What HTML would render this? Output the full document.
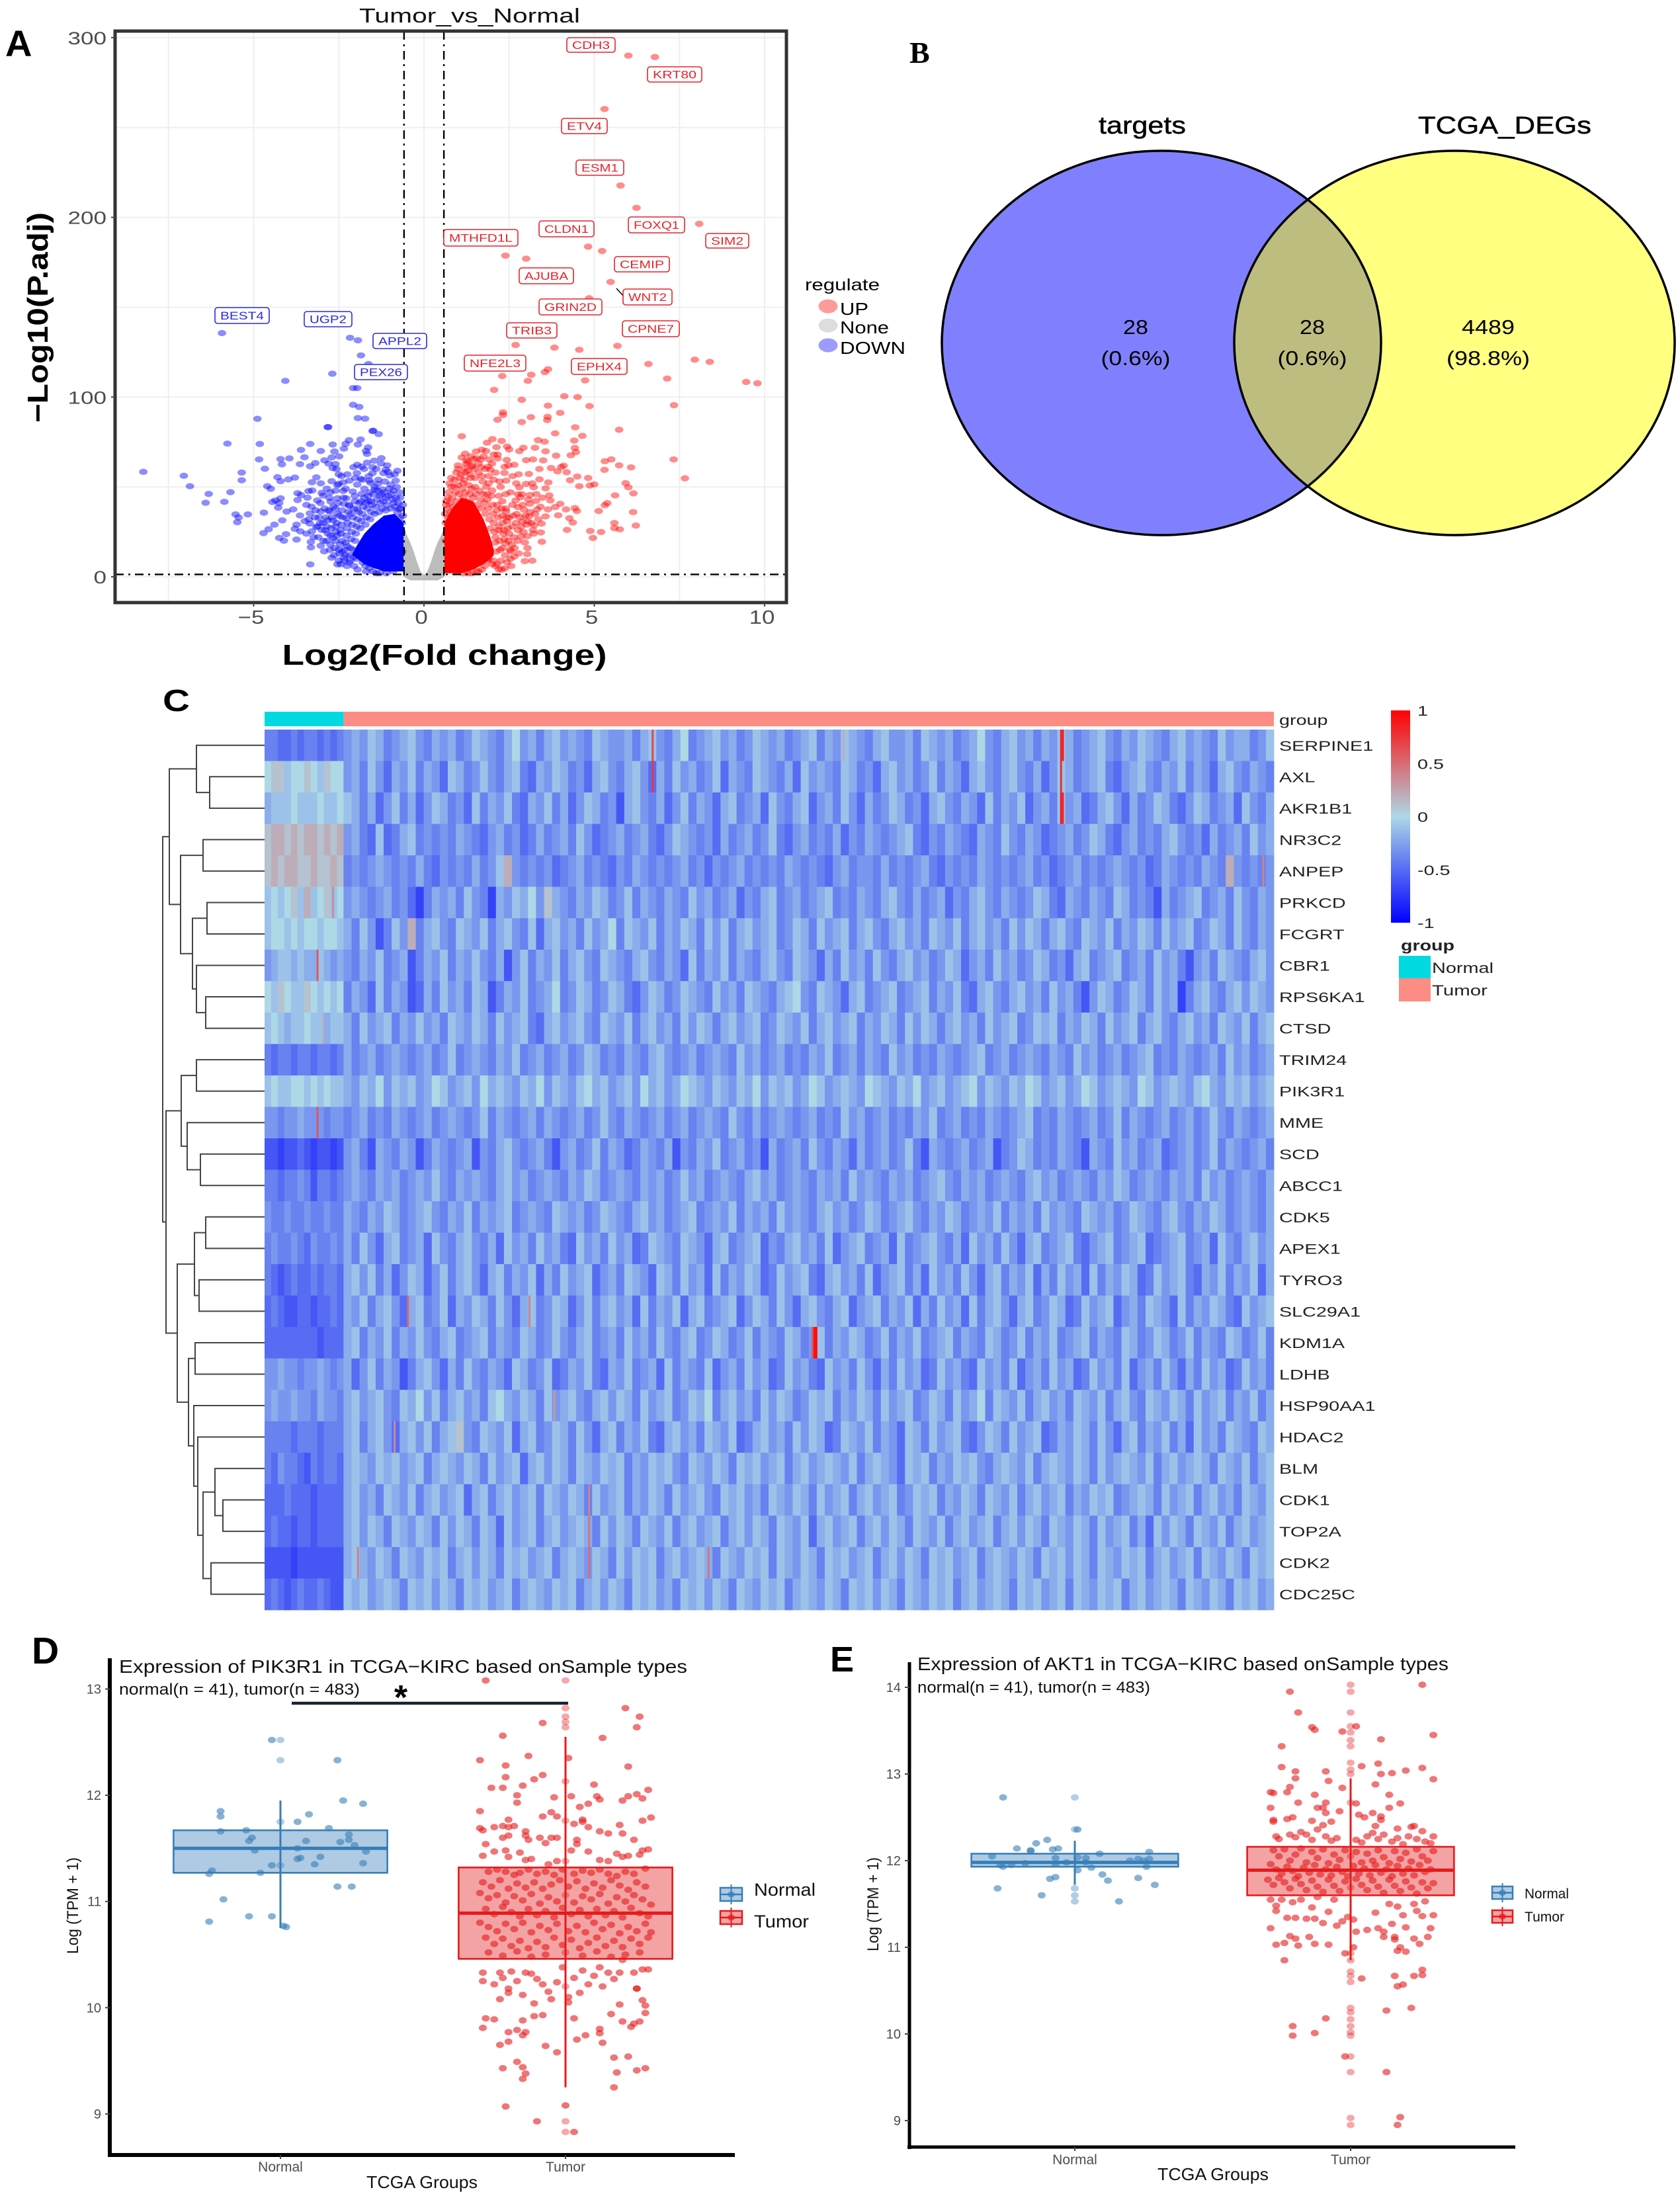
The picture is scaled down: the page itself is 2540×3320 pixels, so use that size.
<!DOCTYPE html>
<html lang="en">
<head>
<meta charset="utf-8">
<title>Tumor vs Normal composite figure</title>
<style>
html,body{margin:0;padding:0;background:#fff}
svg{display:block}
text{font-family:"Liberation Sans",Arial,sans-serif}
</style>
</head>
<body>
<svg id="fig" xmlns="http://www.w3.org/2000/svg" width="2540" height="3320" viewBox="0 0 2540 3320">
<rect width="2540" height="3320" fill="#fff"/>
<g id="panelA"></g>
<g id="panelB">
  <defs><clipPath id="vennClip"><ellipse cx="1756" cy="518.5" rx="332" ry="290.5"/></clipPath></defs>
  <ellipse cx="1756" cy="518.5" rx="332" ry="290.5" fill="#8080ff"/>
  <ellipse cx="2199" cy="518.5" rx="333" ry="290.5" fill="#ffff80"/>
  <ellipse cx="2199" cy="518.5" rx="333" ry="290.5" fill="#bdbd80" clip-path="url(#vennClip)"/>
  <ellipse cx="1756" cy="518.5" rx="332" ry="290.5" fill="none" stroke="#000" stroke-width="3.5"/>
  <ellipse cx="2199" cy="518.5" rx="333" ry="290.5" fill="none" stroke="#000" stroke-width="3.5"/>
  <text x="1727" y="202" font-size="37" text-anchor="middle" textLength="132" lengthAdjust="spacingAndGlyphs" stroke="#000" stroke-width=".5">targets</text>
  <text x="2275" y="202" font-size="37" text-anchor="middle" textLength="262" lengthAdjust="spacingAndGlyphs" stroke="#000" stroke-width=".5">TCGA_DEGs</text>
  <text x="1717" y="505" font-size="31" text-anchor="middle" textLength="38" lengthAdjust="spacingAndGlyphs">28</text>
  <text x="1717" y="552" font-size="31" text-anchor="middle" textLength="105" lengthAdjust="spacingAndGlyphs">(0.6%)</text>
  <text x="1984" y="505" font-size="31" text-anchor="middle" textLength="38" lengthAdjust="spacingAndGlyphs">28</text>
  <text x="1984" y="552" font-size="31" text-anchor="middle" textLength="105" lengthAdjust="spacingAndGlyphs">(0.6%)</text>
  <text x="2250" y="505" font-size="31" text-anchor="middle" textLength="80" lengthAdjust="spacingAndGlyphs">4489</text>
  <text x="2250" y="552" font-size="31" text-anchor="middle" textLength="126" lengthAdjust="spacingAndGlyphs">(98.8%)</text>
</g>
<g id="panelC"></g>
<g id="panelD"></g>
<g id="panelE"></g>
<text x="8" y="85" font-size="56" font-weight="700">A</text>
<text x="1375" y="95" font-size="46" font-weight="700" style="font-family:'Liberation Serif',serif">B</text>
<text x="246" y="1075" font-size="46" font-weight="700" textLength="41" lengthAdjust="spacingAndGlyphs">C</text>
<text x="48" y="2515" font-size="57" font-weight="700">D</text>
<text x="1255" y="2527" font-size="54" font-weight="700">E</text>
</svg>
<script>
/* ---------- Volcano data (log2 fold change, -log10 adjusted p) ---------- */
const volXTicks=[-5,0,5,10];
const volYTicks=[0,100,200,300];
const volXMinor=[-7.5,-2.5,2.5,7.5];
const volYMinor=[50,150,250];
const volFcCut=[-0.585,0.585];
const volPCut=[1.3];
const noneBandX=[-0.6,-0.5,-0.4,-0.3,-0.2,-0.1,0,0.1,0.2,0.3,0.4,0.5,0.6];
const noneBandTop=[27,23,19,14,8,3,1,3,8,14,19,23,27];
const noneBandBottom=[0,-1,-2,-2,-2,-2,-2,-2,-2,-2,-2,-1,0];
const downCoreX=[-0.6,-0.86,-1.18,-1.5,-1.75,-1.95,-2.1];
const downCoreTop=[30,35,34,29,24,18,13];
const downCoreBottom=[3,3,3,5,7,10,12];
const upCoreX=[0.6,0.82,1.1,1.45,1.75,1.95,2.05];
const upCoreTop=[30,38,44,42,32,22,15];
const upCoreBottom=[2,2,2,4,7,10,12];
const downPoints=[[-8.24,58.4],[-7.05,56.2],[-6.87,50.4],[-6.32,46.1],[-6.41,41.2],[-5.86,41.7],[-5.68,47.1],[-5.35,58],[-5.35,53.7],[-5.53,34.7],[-5.44,33],[-5.48,30.4],[-5.17,34.7],[-4.89,87.9],[-4.82,73.9],[-5.77,74.1],[-4.84,65.3],[-4.67,60.1],[-4.07,109],[-2.69,113],[-5.93,135.6],[-2.17,133],[-1.94,131.6],[-1.85,123.2],[-1.63,118.4],[-2.08,105],[-1.96,105],[-2.08,95.7],[-1.9,94.5],[-1.94,88.3],[-1.73,88],[-2.81,83.3],[-1.49,81.3],[-1.33,79.4],
[-4.21,65.5],[-3.95,65.9],[-4.17,62.6],[-3.61,70.6],[-3.34,73.9],[-3.51,66.5],[-3.64,62.7],[-3.34,61.5],[-3.19,63.3],[-3.03,70],[-2.92,64.8],[-2.68,73.6],[-2.63,69.7],[-2.35,71.3],[-2.3,74],[-2.2,76],[-1.86,76.4],[-1.94,73.6],[-1.64,72],[-1.7,70],[-1.67,68.4],[-2.49,67],[-2.71,66.4],[-1.51,81.1],[-2.83,83.3],
[-2.8,63],[-2.68,60.5],[-2.6,62.7],[-2.57,60],[-2.5,57],[-2.07,61],[-1.96,62.3],[-1.83,61.3],[-1.76,60],[-1.67,63.5],[-1.46,64.6],[-1.26,63],[-1.51,61],[-1.97,57.7],[-1.51,57.7],[-1.12,59.6],[-1.19,57.7],[-0.86,57],[-1,56.4],
[-4.3,55.4],[-4.21,53.2],[-3.98,54.2],[-3.79,55.2],[-3.16,55.3],[-3.29,52.6],[-3.03,52],[-2.71,53.2],[-2.54,51],[-2.37,52.5],[-2.19,53.5],[-1.96,51.3],[-1.86,54.5],[-4.6,50.4],[-4.5,49],[-3.39,47.7],[-3.28,48],[-2.6,47.9],[-2.37,47.8],[-1.8,54],[-1.6,53.5],[-1.34,54],[-0.98,51.3],[-0.83,53.5],
[-3.71,46.5],[-3.61,45.5],[-3.71,42.7],[-4.21,43.7],[-4.36,42.5],[-4.45,41.6],[-4.25,41],[-4.28,38.5],[-3.45,40],[-3.35,35.3],[-3,46.7],[-2.96,45.2],[-2.74,41.8],[-2.35,40.6],[-4.7,35.7],[-4.16,31.4],[-4.39,29],[-4.56,26.5],[-4.71,24.3],[-4.03,36.3],[-3.84,37.5],[-3.64,34.1],[-3.74,29],[-3.79,26.7],[-3.63,25.3],[-4.05,23.7],[-4.25,21.6],[-4.11,20.1],[-3.74,20.7],[-3.32,19.4],[-3.32,16.4],[-3.34,6.9],[-3.29,25.3],[-3.16,27.7],[-3.35,29.6],[-2.9,25.9],[-3.03,17.3],[-2.93,14.2],[-2.71,10.6],[-2.54,6.9],[-2.35,10.6],[-2.67,21.6],[-2.83,31.4],[-3.03,36.3],[-2.77,36.3],[-2.48,33.9],[-2.28,43.7],[-2.03,44.9],[-1.83,46.1],[-1.64,44.9],[-1.44,48.6],[-1.57,52.3],[-1.12,43.7],[-0.89,41.2],[-0.73,37.5],[-2.51,51.7],[-2.09,47.4],[-1.22,48.6],[-2.28,32.6],[-2.67,31.4],[-1.96,37.5],[-1.7,41.2],[-2.19,39.4],[-2.54,43.7],[-3.13,42.5],[-1.06,58.4],[-1.35,51.7],
[-2.6,28],[-2.45,26],[-2.75,18],[-2.5,15],[-2.4,20],[-2.55,23],[-3.1,22],[-2.95,20],[-2.2,8],[-2.05,6],[-1.95,4],[-1.7,3],[-2.4,37],[-2.15,35],[-2.6,38],[-1.85,42],[-1.55,42],[-1.3,45],[-0.95,46],[-0.7,44],[-0.62,40],[-2.85,28],[-3.05,30],[-3.2,33],[-3.5,31],[-3.45,24],[-2.25,17],[-2.3,12]];
const downDensePoints=[[-0.62,34],[-0.65,30],[-0.66,25],[-0.68,38],[-0.7,33],[-0.72,47],[-0.75,41],[-0.78,36],[-0.8,50],[-0.82,44],[-0.85,39],[-0.9,48],[-0.93,43],[-0.97,38],[-1.02,49],[-1.05,45],[-1.08,40],[-1.12,37],[-1.15,47],[-1.18,42],[-1.22,38],[-1.25,46],[-1.28,41],[-1.32,36],[-1.36,48],[-1.38,43],[-1.42,39],[-1.45,35],[-1.48,46],[-1.52,40],[-1.55,36],[-1.58,32],[-1.6,47],[-1.63,42],[-1.66,38],[-1.69,33],[-1.72,29],[-1.75,44],[-1.78,39],[-1.81,35],[-1.84,31],[-1.87,27],[-1.9,41],[-1.92,36],[-1.95,32],[-1.97,28],[-2,24],[-2.02,20],[-2.03,42],[-2.06,38],[-2.08,33],[-2.1,29],[-2.12,25],[-2.14,21],[-2.16,16],[-2.18,12],[-2.2,40],[-2.22,36],[-2.24,30],[-2.26,27],[-2.28,23],[-2.3,19],[-2.32,15],[-2.34,9],[-2.36,44],[-2.38,33],[-2.42,29],[-2.44,24],[-2.46,18],[-2.48,13],[-2.5,9],[-2.52,41],[-2.54,35],[-2.56,30],[-2.58,25],[-2.6,20],[-2.62,16],[-2.64,12],[-2.66,39],[-2.7,33],[-2.72,27],[-2.74,23],[-2.76,15],[-2.78,44],[-2.8,37],[-2.82,24],[-2.86,20],[-2.88,33],[-2.92,38],[-2.96,30],[-3,26],[-3.04,41],[-3.08,33],[-3.12,28],[-3.18,37],[-3.24,22],[-3.3,39],[-3.38,32],[-3.42,44],[-1.98,10],[-1.9,12],[-1.8,8],[-1.72,6],[-1.6,5],[-1.5,3],[-1.4,2],[-2.08,15],[-2.16,9],[-2.06,11],[-0.64,14],[-0.7,9],[-0.76,5],[-0.9,3],[-1.1,2],[-1.3,2],[-2.26,6],[-2.4,14],[-2.44,7],[-1.15,53],[-1.45,50],[-1.75,49],[-2.3,49],[-2.75,47],[-2.25,57],[-1.25,66],[-0.78,59],[-1.62,56],[-1.08,62],[-1.4,60],[-2.02,55],[-2.42,56],[-2.85,49]];
const upPoints=[[6,290],[6.78,289.2],[5.3,260.3],[5.77,217.7],[6.24,205.3],[8.08,196.4],[4.82,183.7],[5.23,181.3],[2.39,178.7],[3,177],[5.48,164.1],[4.85,155],[2.69,129],[3.83,127.5],[4.56,126.3],[5.68,128.5],[6.59,118.4],[7.95,120.8],[8.39,119.6],[7.14,110.3],[9.46,108.4],[9.79,107.7],[2.3,111.7],[3.15,112.4],[3.05,109],[3.55,113.9],[3.64,115.5],[4.73,109.3],[2.06,104],
[2.87,98.5],[4.12,100.5],[4.51,100],[3.64,95.2],[4.86,95],[2.32,91.5],[2.32,90],[2.16,87.4],[3.14,88.8],[2.87,86.1],[3.63,89],[3.62,87.2],[4,91.2],[7.34,95.5],[5.73,81.8],[4.44,83.2],[3.85,79.8],[4.65,78.4],[1.11,78.2],[4.41,75.8],[4.43,71.7],[4.46,69.4],[4.31,67.6],[3.88,67.4],[3.35,76],[3.54,75.2],[2.01,76.6],[1.85,74.6],[2.28,75.6],[2.13,72.1],[2.44,72.5],[2.5,70.9],[2.92,71.8],[3.26,71.8],[2.8,69.9],[3.57,69.8],[1.7,70.7],[1.53,69.7],[1.21,68.5],[1.11,66.4],[2.16,68],[1.25,64.8],[1.46,65.5],[1.67,65.2],[1.92,65.2],[2.16,65.8],[2.43,65],[3,64.9],[3.2,65.3],[3.5,64.8],[5.31,64.3],[5.5,65.3],[5.73,62],[6.08,60.9],[5.3,59.5],[7.33,65.3],[7.66,54.8],[2.65,62.3],[2.37,61.2],[1.88,61.2],[1.42,61.2],[1.21,60.5],[3.39,60],[3.73,60.5],[3.92,58.7],[4.1,61.8],[4.03,61.1],[4.19,58.2],[3.08,57.2],[2.36,57.8],[1.95,59.6],[4.5,55.8],[4.29,53.7],[4.82,55],[3.39,54.2],[3.65,52.5],[3.18,52],[3,51.7],[2.71,52],[2.41,53.5],[4.56,50.4],[4.87,50.8],[5,51.4],[5.92,52.1],[6,49.8],[6.15,46.4],[5.61,45.3],[5.38,41],[5.31,39.8],[5.13,36.6],[6.14,36],[6.22,28.5],[5.59,29.9],[5.59,27.1],[5.75,26.4],[4.88,25.5],[5.2,24.9],[4.96,21.6],[4.2,26.1],[3.57,49.2],[3.22,49.8],[2.8,49.8],[3.68,45.3],[3.11,45.5],[2.76,45.9],[2.83,44.3],[3.71,42.5],[4,40.6],[3.85,38.8],[3.29,42.2],[2.69,42.5],[3.11,40.6],[4.17,37.5],[4.43,38.2],[4.49,36.6],[3.64,37.5],[3.32,37.5],[2.94,37.3],[2.76,38.8],[3.94,34.2],[4.27,32.6],[4.37,30.2],[3.57,33.6],[3.08,33.6],[3.24,28.7],[3.45,29.6],[2.89,30.8],[3.04,30.8],[2.44,30.8],[2.41,36.3],[3.43,24.7],[3.22,24],[2.85,22.5],[3.04,22.6],[2.76,25.9],[2.35,25.9],[3.46,19.5],[2.96,19.1],[2.39,18.5],[2.58,17.9],[2.55,14.2],[3.04,16],[3.03,12.6],[2.65,11.2],[2.96,8.7],[3.18,9],[2.44,8.1],[2.37,4.7],
[0.7,44],[0.9,50],[1.05,55],[1.2,58],[1.35,57],[1.5,55],[1.7,56],[1.9,52],[2,48],[2.2,45],[2.3,42],[2.4,38],[2.5,33],[2.6,28],[2.5,24],[2.2,28],[2.1,22],[2.3,16],[1.9,10],[2,7],[2.2,4],[1.6,3],[1.8,60],[1.4,62],[1,60],[1.15,52],[0.75,52],[2.05,54],[2.25,50],[1.3,64],[1.6,63],[1.75,67],[2,63],[2.1,58],[0.65,40],[1.85,46],[2.3,34],[2.15,40]];
const upDensePoints=[[0.62,35],[0.64,30],[0.66,42],[0.68,38],[0.7,33],[0.73,47],[0.76,41],[0.78,36],[0.8,50],[0.83,44],[0.86,39],[0.9,54],[0.93,47],[0.96,42],[1,51],[1.03,46],[1.06,40],[1.09,57],[1.12,49],[1.15,44],[1.18,54],[1.22,47],[1.25,42],[1.28,59],[1.31,51],[1.34,46],[1.37,55],[1.4,49],[1.44,44],[1.47,60],[1.5,50],[1.53,46],[1.56,40],[1.6,58],[1.63,48],[1.66,43],[1.69,38],[1.72,53],[1.75,46],[1.78,41],[1.8,35],[1.83,50],[1.86,43],[1.89,38],[1.92,32],[1.95,27],[1.98,45],[2.01,40],[2.03,35],[2.05,30],[2.07,25],[2.09,19],[2.12,14],[2.14,37],[2.17,33],[2.19,26],[2.21,20],[2.24,15],[2.26,9],[2.28,38],[2.31,30],[2.33,24],[2.36,21],[2.38,12],[2.4,46],[2.42,33],[2.46,27],[2.48,20],[2.52,15],[2.54,10],[2.56,6],[2.6,40],[2.62,34],[2.64,22],[2.66,16],[2.7,30],[2.72,35],[2.75,20],[2.78,13],[2.82,33],[2.85,28],[2.9,40],[2.92,25],[2.98,34],[3.02,29],[3.06,43],[3.12,36],[3.15,30],[3.2,26],[3.26,35],[3.3,46],[3.36,32],[3.42,39],[3.48,44],[1.92,14],[1.86,9],[1.78,6],[1.7,4],[1.55,3],[1.4,2],[2.04,9],[2.1,6],[2.28,4],[2.15,7],[0.7,12],[0.8,6],[0.95,3],[1.15,2],[1.3,2],[0.64,20],[1,62],[1.24,63],[1.55,66],[1.9,56],[2.22,53],[2.54,47],[2.6,56],[2.48,62],[2.78,57],[2.88,46],[2.05,68],[1.82,70],[1.38,67],[0.95,58],[0.8,55],[1.68,61]];
const volLabels=["CDH3","KRT80","ETV4","ESM1","MTHFD1L","CLDN1","FOXQ1","SIM2","CEMIP","AJUBA","WNT2","GRIN2D","CPNE7","TRIB3","NFE2L3","EPHX4","BEST4","UGP2","APPL2","PEX26"];
const volLabelDir=["up","up","up","up","up","up","up","up","up","up","up","up","up","up","up","up","down","down","down","down"];
const volLabelBox=[[857,57,73,22],[979,101,82,23],[849,179,69,23],[871,242,72,23],[671,347,112,25],[815,334,83,24],[950,328,85,24],[1067,353,65,22],[929,388,83,23],[785,405,82,24],[942,437,74,24],[815,452,95,24],[941,485,86,24],[766,488,76,23],[702,537,93,24],[864,542,84,24],[325,465,82,24],[460,471,72,23],[564,504,81,23],[536,551,80,23]];

/* ---------- Heatmap data: levels map to (level-7)/10 on a -1..1 scale ---------- */
const heatGenes=["SERPINE1","AXL","AKR1B1","NR3C2","ANPEP","PRKCD","FCGRT","CBR1","RPS6KA1","CTSD","TRIM24","PIK3R1","MME","SCD","ABCC1","CDK5","APEX1","TYRO3","SLC29A1","KDM1A","LDHB","HSP90AA1","HDAC2","BLM","CDK1","TOP2A","CDK2","CDC25C"];
const groupSizes=[41,483];
const normalColumns=12;
const colorbarTicks=[1,0.5,0,-0.5,-1];
const heatRows=[
[3,3,2,2,3,2,3,3,2,3,2,3,4,5,4,6,5,3,4,5,6,4,3,5,4,5,3,4,6,5,4,3,5,7,4,5,3,5,6,4,5,4,3,6,5,4,4,5,3,5,6,4,3,5,7,3,4,5,6,4,5,3,4,6,5,4,5,3,4,5,6,3,5,4,6,5,4,3,5,6,4,4,5,3,6,5,4,5,3,4,5,7,4,3,5,6,4,5,3,5,4,6,5,3,4,5,6,4,3,5,4,6,5,4,3,5,6,4,5,4,3,6,4,5,5,3,4,6],
[7,8,8,6,7,7,8,7,6,8,7,7,4,5,3,6,4,2,5,4,6,3,5,4,2,6,5,3,4,6,4,3,5,6,3,2,5,4,6,5,3,4,2,5,6,4,3,5,6,4,2,5,3,6,4,5,3,4,6,2,5,4,3,6,5,4,3,5,2,6,4,5,4,3,6,5,3,4,2,5,6,4,5,3,4,6,3,5,4,2,5,6,4,3,5,6,4,3,5,2,4,6,5,3,4,5,6,3,2,4,5,6,4,3,5,4,6,3,5,4,2,5,6,4,3,5,4,3],
[5,6,6,6,7,6,6,6,7,6,6,7,6,5,3,5,2,4,6,3,5,2,4,6,5,3,4,2,6,3,5,4,6,3,2,5,4,6,3,5,2,4,6,5,3,4,1,5,6,4,3,5,2,4,6,3,5,4,2,5,6,3,4,5,2,6,4,3,5,6,2,4,5,3,6,4,2,5,3,4,6,5,3,4,2,5,6,4,3,5,4,2,6,3,5,4,6,2,4,5,3,6,4,5,2,3,5,6,4,2,5,3,4,6,5,3,2,4,6,5,3,4,5,2,6,4,3,5],
[8,9,9,8,9,8,9,9,8,9,8,9,4,5,3,2,6,2,3,5,6,3,4,3,4,3,5,4,3,2,4,5,3,4,2,3,5,3,4,5,3,6,4,2,3,4,5,3,4,5,3,2,4,6,5,4,3,4,2,5,3,4,5,3,4,6,3,2,4,5,3,4,3,5,2,4,3,5,4,3,4,5,6,3,2,4,3,5,4,3,2,5,4,3,6,4,3,5,4,2,3,4,5,3,4,6,5,3,2,4,5,3,4,3,5,6,4,3,4,2,5,3,4,5,3,6,4,5],
[8,9,8,9,9,8,8,9,8,8,9,8,3,4,3,4,5,4,3,4,3,5,3,2,4,3,4,3,5,3,4,6,9,4,3,4,3,4,2,3,4,5,3,4,3,2,4,3,5,4,3,4,3,4,5,3,4,2,4,3,4,5,3,4,3,4,3,5,4,3,4,3,2,4,5,3,4,4,3,5,3,4,3,4,5,3,2,4,3,4,3,5,4,3,4,3,4,5,3,4,2,3,4,5,3,4,3,4,5,4,3,4,2,3,5,4,3,4,3,5,4,3,9,4,3,4,3,4],
[6,7,6,7,8,6,9,6,7,8,6,7,4,5,4,3,4,5,3,4,2,0,3,5,4,5,3,6,4,3,0,5,4,6,5,7,4,8,5,4,3,5,4,6,5,3,4,6,3,5,4,3,5,4,3,6,4,5,3,4,5,2,4,3,5,6,3,4,5,3,4,5,6,3,4,3,5,4,3,5,6,4,3,5,3,4,5,2,4,3,5,6,4,3,5,4,3,4,6,5,3,2,5,4,3,5,4,3,6,5,3,4,3,1,5,3,4,5,6,3,4,5,3,6,4,3,5,4],
[6,7,7,6,7,6,7,7,6,7,7,6,5,3,6,4,1,3,6,4,9,3,5,6,4,3,6,5,4,6,3,5,6,4,3,6,2,5,6,4,5,3,6,4,5,7,3,6,5,4,6,3,5,4,6,5,3,6,4,6,3,5,6,4,5,6,3,4,6,5,3,6,4,5,6,3,5,6,4,3,5,6,4,5,3,6,5,4,6,3,5,6,4,5,3,6,4,6,5,3,5,6,4,3,6,5,4,6,3,5,4,6,5,3,6,4,5,6,3,4,6,5,3,6,4,3,5,4],
[4,5,6,6,5,6,5,5,6,5,4,5,4,3,5,4,6,3,4,5,1,3,5,4,6,3,5,4,6,4,3,5,1,4,6,3,5,4,6,3,5,6,4,3,6,5,4,3,5,6,4,3,5,4,2,6,3,5,4,6,3,5,4,3,5,6,4,3,6,5,4,2,5,3,6,4,5,3,6,4,3,5,6,4,5,3,4,6,5,2,4,5,3,6,4,5,3,4,6,5,3,4,2,5,6,3,4,5,6,3,4,5,3,6,4,5,3,1,4,5,3,6,5,4,3,5,6,4],
[7,6,8,7,6,6,8,7,6,7,6,7,3,5,4,2,6,3,5,4,1,2,5,3,6,4,5,3,6,5,1,3,5,4,6,3,4,5,7,3,4,6,5,3,4,6,5,3,2,4,6,5,3,4,6,5,4,3,6,4,5,3,6,5,4,3,5,6,7,4,3,6,5,4,2,5,6,3,4,5,6,3,4,5,6,3,5,4,6,3,2,5,6,4,3,5,6,4,5,3,6,4,5,3,1,4,6,5,3,4,6,5,3,6,4,5,0,3,5,6,4,3,5,6,4,6,5,4],
[6,7,6,5,6,6,7,6,6,5,6,6,5,3,6,4,5,6,3,5,4,6,4,5,3,6,5,4,6,5,3,6,4,5,6,3,2,5,6,4,5,6,4,3,6,5,4,6,3,5,6,4,5,3,6,4,6,5,3,5,6,4,5,6,3,4,6,5,4,6,3,5,6,4,5,6,3,5,4,6,5,3,6,4,6,5,3,5,6,4,5,3,6,4,5,6,3,4,6,5,6,3,5,4,6,5,3,6,4,5,6,3,5,6,4,3,5,6,4,5,3,6,5,4,6,3,5,6],
[3,2,3,3,2,3,3,2,3,3,2,3,5,3,4,5,3,4,5,4,3,4,5,3,4,6,3,4,5,4,3,5,4,6,3,4,5,3,4,5,3,4,6,5,3,4,3,5,4,3,5,6,4,3,4,5,3,4,5,4,3,6,4,5,3,4,5,3,4,3,5,4,6,3,4,5,3,5,4,3,6,4,5,3,4,3,5,4,3,4,5,6,3,4,5,3,4,5,4,3,5,4,3,6,4,5,3,4,5,3,4,5,6,3,4,3,5,4,3,4,5,3,6,4,5,3,4,5],
[6,7,6,6,7,7,6,7,6,7,6,6,5,4,6,5,7,4,6,5,6,4,5,7,6,4,5,6,4,7,5,6,5,4,6,5,7,4,6,5,4,6,7,5,6,4,5,6,4,7,5,6,4,5,7,6,5,4,6,5,4,6,5,7,4,6,5,6,4,5,7,6,4,5,6,5,4,7,6,5,4,6,5,7,4,5,6,4,5,6,7,4,6,5,4,6,5,7,6,4,5,6,4,5,7,6,4,5,6,5,4,7,6,4,5,6,5,4,6,7,5,4,6,5,6,4,5,6],
[4,4,3,4,4,5,4,4,4,3,4,4,3,4,5,3,4,3,5,4,3,4,5,3,4,5,4,3,4,6,3,5,4,3,4,5,3,5,4,3,4,5,3,4,6,4,3,5,4,3,4,5,3,4,5,3,4,5,4,3,6,4,3,5,3,4,5,4,3,4,5,3,4,3,6,4,5,3,4,5,3,4,3,5,4,6,3,4,5,3,4,3,5,4,3,4,5,6,3,4,3,5,4,3,4,5,3,4,6,3,5,4,3,4,5,3,4,5,3,4,6,4,3,5,4,3,4,5],
[1,1,0,1,1,2,1,0,1,1,0,1,4,5,3,1,5,4,3,5,4,1,3,5,4,3,4,5,1,4,3,5,6,4,3,4,5,3,1,4,5,3,4,6,3,5,4,2,3,5,4,3,5,1,4,3,5,4,6,3,4,5,3,4,1,5,3,4,5,3,6,4,3,5,4,2,5,3,4,5,3,4,6,3,1,5,4,3,4,5,3,4,5,1,3,4,6,5,3,4,3,5,4,3,1,5,4,3,6,4,5,3,4,5,2,3,4,5,3,4,6,3,5,4,3,4,5,3],
[3,3,2,3,3,4,3,1,3,3,2,3,4,5,4,3,5,4,5,3,4,5,4,6,4,3,5,4,5,4,3,5,6,4,5,3,4,5,4,3,5,4,6,5,3,4,5,4,3,5,4,5,3,4,6,4,5,3,4,5,4,3,5,6,4,5,3,4,5,4,3,5,4,5,3,6,4,5,4,3,5,4,5,3,4,5,6,4,3,5,4,5,3,4,5,4,3,5,6,4,5,3,4,5,4,3,5,4,6,5,3,4,5,4,3,5,4,5,3,6,4,5,3,4,5,4,3,5],
[4,3,3,4,3,3,4,3,3,4,3,3,5,4,3,5,4,6,5,3,4,5,6,4,3,5,4,6,3,5,4,5,6,3,4,5,4,3,6,5,4,5,3,4,6,5,4,3,5,6,4,5,3,4,5,6,3,4,5,4,6,3,5,4,5,3,6,4,5,4,3,5,6,4,5,3,4,6,5,3,4,5,6,4,3,5,4,6,5,3,4,5,4,6,3,5,4,5,3,6,4,5,4,3,6,5,4,5,3,4,6,5,4,3,5,6,4,3,5,4,6,5,3,4,5,4,3,5],
[3,4,3,3,4,3,2,4,3,3,4,3,5,3,6,4,2,5,6,3,4,5,2,6,4,3,5,6,4,3,5,2,6,4,5,3,6,4,5,3,2,6,4,5,3,6,4,5,2,3,6,5,4,3,6,5,4,2,5,6,3,4,5,6,2,4,3,5,6,4,5,3,6,2,4,5,6,3,4,5,2,6,3,4,5,6,4,3,5,2,6,4,5,3,6,4,2,5,6,3,4,5,6,3,2,4,5,6,3,4,5,6,2,3,4,5,6,3,4,5,2,6,4,3,5,6,4,5],
[3,2,1,2,3,2,2,3,2,3,3,2,5,6,4,6,3,5,2,4,6,5,2,4,6,3,5,6,4,2,5,6,3,5,4,6,2,5,3,6,4,5,6,2,4,5,3,6,5,4,2,6,5,3,6,4,5,2,6,3,5,4,6,5,2,3,6,4,5,6,3,2,5,6,4,5,3,6,2,4,5,6,3,5,2,6,4,5,3,6,4,2,5,6,3,5,4,6,2,5,3,6,4,5,2,6,3,5,4,6,5,2,3,6,4,5,6,3,2,5,4,6,3,5,4,6,2,5],
[2,3,2,1,1,2,2,1,2,2,3,2,5,4,6,3,5,6,4,2,5,6,3,4,6,2,5,4,6,5,3,6,4,2,5,6,3,4,6,5,2,4,6,3,5,6,4,5,2,6,3,5,4,6,2,5,6,3,4,5,6,2,4,6,5,3,6,4,2,5,6,4,3,5,6,2,4,5,6,3,5,4,6,2,5,3,6,4,5,2,6,3,5,6,4,2,5,6,3,4,6,5,2,3,6,4,5,6,2,4,5,3,6,5,4,2,6,3,5,4,6,5,3,2,6,4,5,6],
[2,2,2,2,2,2,2,2,1,2,2,2,5,6,3,5,4,6,3,5,4,6,4,3,5,6,3,4,5,6,3,5,4,3,6,5,3,4,6,4,3,5,6,3,4,5,3,6,4,5,3,6,4,3,5,6,3,4,6,5,3,4,6,3,5,4,3,6,5,3,4,6,3,5,4,6,5,3,4,6,3,5,4,6,3,4,5,6,3,5,4,3,6,5,3,4,6,3,5,4,6,3,4,5,6,3,5,4,3,6,5,3,4,6,5,3,4,6,3,5,4,3,6,5,3,4,6,3],
[4,4,5,4,4,3,4,4,5,4,3,4,5,2,4,6,3,5,4,1,3,5,6,4,2,5,3,6,4,3,5,4,2,6,5,3,4,6,2,3,5,4,6,3,2,5,4,6,3,4,5,2,6,3,5,4,3,6,2,4,5,3,6,4,5,2,3,6,4,5,3,2,6,4,5,3,6,4,2,5,3,6,4,5,2,3,6,4,5,3,2,6,4,5,3,6,2,4,5,3,6,4,5,2,3,6,4,5,3,6,2,4,5,3,6,4,2,5,3,6,4,5,2,3,6,4,5,3],
[4,5,4,4,5,4,4,3,5,4,4,3,5,6,4,5,6,4,3,6,5,7,4,6,3,5,6,4,5,3,6,7,5,4,6,5,3,6,4,5,6,4,3,5,6,4,6,5,3,6,4,5,6,3,4,6,5,7,3,5,6,4,5,3,6,4,6,5,3,4,6,5,6,3,5,4,6,5,3,6,4,5,6,3,4,6,5,3,6,4,5,7,3,6,5,4,6,3,5,6,4,5,3,6,5,4,6,3,5,6,4,3,6,5,4,6,5,3,6,4,5,6,3,5,4,6,3,5],
[3,3,3,3,2,3,3,3,2,3,3,3,5,6,3,5,6,4,2,5,6,4,6,3,5,6,8,4,3,6,5,4,6,2,5,6,3,4,6,5,3,6,4,2,5,6,3,5,4,6,3,2,5,6,4,5,3,6,5,4,6,2,3,5,6,4,5,3,6,4,6,5,2,3,6,5,4,6,3,5,4,2,6,5,3,6,4,5,6,3,2,4,6,5,3,6,4,5,6,2,3,5,4,6,5,3,6,4,2,5,6,3,5,4,6,3,5,2,6,4,5,3,6,5,4,3,6,5],
[3,2,4,3,3,2,1,3,2,3,3,2,5,6,5,4,6,5,6,4,5,6,3,5,6,5,4,6,5,3,6,4,5,6,2,5,6,4,6,5,3,6,5,4,6,5,6,3,5,4,6,5,6,4,3,6,5,4,6,5,3,6,5,6,4,5,6,3,5,6,4,5,6,5,4,6,3,5,6,5,4,2,6,5,6,3,5,4,6,5,6,4,3,5,6,5,4,6,3,5,6,5,4,6,5,3,6,4,5,6,5,4,6,3,5,6,4,5,6,5,3,6,5,4,6,3,5,6],
[2,2,2,3,2,2,2,1,2,2,2,2,5,6,4,5,3,6,5,4,6,3,5,6,4,5,6,2,5,6,3,5,6,4,5,6,3,6,5,4,6,5,3,6,4,5,6,3,5,4,6,5,3,6,4,5,6,4,3,6,5,6,4,5,3,6,5,4,6,5,3,6,4,5,6,3,5,6,4,5,6,3,4,6,5,6,3,5,4,6,5,3,6,5,4,6,3,5,6,4,5,6,3,5,4,6,5,6,3,4,5,6,5,3,6,4,5,6,3,5,6,4,5,3,6,5,4,6],
[2,3,2,2,1,2,2,1,2,2,2,2,5,6,4,6,5,3,6,5,4,6,5,3,6,4,6,5,3,6,5,2,6,4,5,6,3,5,6,4,5,6,5,3,6,4,6,5,3,6,5,4,6,3,5,6,4,5,6,3,5,6,4,6,5,3,6,5,4,6,2,5,6,4,5,6,3,5,6,4,6,5,3,6,5,4,6,3,5,6,4,5,6,3,5,6,4,6,5,3,6,5,4,6,5,3,6,4,5,6,3,5,2,6,4,6,5,3,6,5,4,6,3,5,6,4,5,6],
[1,1,1,1,0,1,1,1,1,1,1,1,5,6,5,4,6,5,3,6,5,4,6,5,6,3,5,6,4,6,5,3,6,5,6,4,5,6,3,5,6,5,4,6,5,3,6,4,6,5,6,3,5,6,4,5,6,5,3,6,5,4,6,5,6,3,6,5,4,6,5,3,6,5,6,4,5,6,3,5,6,4,6,5,3,6,5,6,4,5,6,3,5,6,5,4,6,5,3,6,5,6,4,6,5,3,6,5,4,6,5,6,3,5,6,4,5,6,3,6,5,4,6,5,3,6,5,6],
[2,3,2,1,2,3,2,2,3,2,1,1,6,5,6,4,5,6,5,3,6,5,6,4,6,5,3,6,5,6,4,5,6,3,5,6,5,4,6,5,6,3,5,6,4,6,5,3,6,5,6,4,5,3,6,5,6,4,6,5,3,6,5,4,6,5,6,3,5,6,5,4,6,5,3,6,5,6,4,6,5,3,6,5,4,6,5,6,3,5,6,4,5,6,5,3,6,5,6,4,5,6,3,6,5,4,6,5,6,3,5,6,4,5,6,5,3,6,5,4,6,5,3,6,5,6,4,5]
];
const heatOutliers=[[0,413,0.85],[0,414,0.85],[0,201,0.7],[0,300,0.2],[1,413,0.8],[1,201,0.75],[2,413,0.9],[2,414,0.8],[19,285,0.95],[19,286,0.95],[19,284,0.6],[24,168,0.4],[25,168,0.45],[26,168,0.5],[18,74,0.5],[18,137,0.4],[26,230,0.45],[26,48,0.4],[22,67,0.35],[7,27,0.6],[12,27,0.6],[4,518,0.4],[5,35,0.35],[9,30,0.2],[21,150,0.3]];
const dendroMerges=[[1,2,8.3],[0,28,10.3],[3,4,9.3],[5,6,8.7],[8,9,8.9],[7,32,10.3],[31,33,10.9],[30,34,12.7],[29,35,14.4],[10,11,10.3],[13,14,9.7],[12,38,11.7],[37,39,12.6],[15,16,8.9],[17,18,9.9],[41,42,10.6],[19,20,10.5],[24,25,6.3],[23,45,7.5],[26,27,8.1],[46,47,9.3],[22,48,10.1],[21,49,10.7],[44,50,11.5],[43,51,13.2],[40,52,14.9],[36,53,15.4]];

/* ---------- Boxplot data: [jitter, log TPM] ---------- */
const pikNormal=[[-.03,12.52],[0,12.52],[0,12.33],[.2,12.33],[.22,11.95],[.29,11.92],[-.21,11.85],[-.21,11.8],[.1,11.82],[0,11.75],[.06,11.75],[-.21,11.66],[-.12,11.67],[.17,11.69],[.24,11.63],[-.1,11.6],[-.11,11.57],[.09,11.57],[.21,11.56],[.24,11.58],[.26,11.53],[.06,11.5],[-.09,11.48],[.3,11.47],[.14,11.42],[.07,11.41],[.06,11.4],[.12,11.35],[.29,11.36],[-.03,11.34],[0,11.34],[-.24,11.29],[-.25,11.26],[-.07,11.27],[.2,11.14],[.25,11.14],[-.2,11.02],[-.11,10.86],[-.03,10.86],[-.25,10.81],[.01,10.77],[.02,10.76]];
const pikTumor=[[-.28,13.08],[0,13.08],[.21,12.82],[.26,12.74],[0,12.82],[0,12.74],[0,12.69],[0,12.64],[-.08,12.68],[.25,12.64],[-.22,12.56],[.13,12.54],[-.3,12.33],[-.13,12.37],[.01,12.35],[-.21,12.28],[.22,12.27],[-.21,12.17],[-.08,12.19],[-.11,12.15],[0,12.13],[-.15,12.09],[.1,12.1],[-.26,12.07],[-.22,12.07],[.29,12.05],[.25,12.01],[.22,11.99],[.2,11.95],[.27,11.97],[-.17,12],[-.17,11.93],[-.04,11.98],[.02,11.99],[.11,11.99],[.12,11.96],[.08,11.92],[.05,11.89],[-.3,11.85],[-.05,11.84],[-.08,11.8],[.3,11.79],[.27,11.76],[-.03,11.8],[0,11.76],[.06,11.77],[.06,11.75],[.03,11.73],[-.2,11.77],
[-.3,11.69],[-.29,11.67],[-.25,11.7],[-.22,11.71],[-.2,11.7],[-.18,11.71],[-.14,11.66],[-.14,11.62],[-.2,11.62],[-.22,11.6],[-.09,11.6],[-.05,11.6],[-.03,11.6],[.04,11.58],[.08,11.7],[.12,11.66],[.15,11.64],[.19,11.72],[.2,11.64],[.24,11.58],[.27,11.48],[.29,11.49],[-.28,11.54],[-.21,11.48],[-.25,11.47],[-.16,11.46],[-.07,11.55],[-.13,11.58],[-.2,11.42],[-.29,11.43],[-.12,11.4],[-.14,11.39],[.04,11.54],[.02,11.48],[.08,11.47],[.12,11.39],[.15,11.38],[.18,11.45],[.2,11.42],[.22,11.43],[.26,11.44],[-.03,11.38],[0,11.38],[-.06,11.35],
[-.27,11.28],[-.24,11.3],[-.21,11.28],[-.18,11.25],[-.16,11.27],[-.13,11.3],[-.1,11.26],[-.07,11.28],[-.04,11.25],[-.01,11.3],[.03,11.26],[.06,11.29],[.09,11.27],[.12,11.3],[.15,11.26],[.18,11.24],[.21,11.28],[.24,11.26],[.28,11.31],[-.29,11.18],[-.26,11.14],[-.23,11.2],[-.2,11.12],[-.17,11.17],[-.14,11.13],[-.11,11.18],[-.08,11.12],[-.05,11.16],[-.02,11.2],[.01,11.14],[.04,11.19],[.07,11.12],[.1,11.17],[.13,11.13],[.16,11.2],[.19,11.15],[.22,11.11],[.25,11.18],[.28,11.14],[-.3,11.08],[-.27,11.03],[-.24,11.06],[-.21,10.99],[-.18,11.05],[-.15,11.01],[-.12,11.07],[-.09,10.98],[-.06,11.04],[-.03,11],[0,11.06],[.03,10.99],[.06,11.05],[.09,11.02],[.12,11.07],[.15,10.98],[.18,11.04],[.21,11],[.24,11.06],[.27,11.02],[.3,10.97],[-.28,10.93],[-.25,10.88],[-.22,10.95],[-.19,10.9],[-.16,10.86],[-.13,10.93],[-.1,10.87],[-.07,10.91],[-.04,10.85],[-.01,10.94],[.02,10.88],[.05,10.92],[.08,10.86],[.11,10.93],[.14,10.87],[.17,10.91],[.2,10.85],[.23,10.94],[.26,10.89],[.29,10.86],[-.3,10.8],[-.27,10.76],[-.24,10.72],[-.21,10.79],[-.18,10.74],[-.15,10.8],[-.12,10.71],[-.09,10.77],[-.06,10.73],[-.03,10.79],[.01,10.72],[.04,10.77],[.07,10.71],[.1,10.8],[.13,10.74],[.16,10.78],[.19,10.7],[.22,10.76],[.25,10.72],[.28,10.79],[.3,10.71],[-.28,10.66],[-.25,10.6],[-.22,10.65],[-.19,10.58],[-.16,10.63],[-.13,10.56],[-.1,10.62],[-.07,10.57],[-.04,10.66],[-.01,10.59],[.02,10.64],[.05,10.56],[.08,10.61],[.11,10.66],[.14,10.58],[.17,10.63],[.2,10.57],[.23,10.65],[.26,10.6],[.29,10.66],[-.27,10.52],[-.22,10.49],[-.17,10.53],[-.12,10.48],[-.07,10.5],[0,10.52],[.06,10.49],[.11,10.53],[.16,10.48],[.21,10.5],[.26,10.52],
[-.29,10.33],[-.29,10.25],[-.25,10.22],[-.23,10.33],[-.22,10.28],[-.2,10.18],[-.19,10.34],[-.17,10.25],[-.15,10.12],[-.14,10.33],[-.12,10.32],[-.1,10.27],[-.08,10.22],[-.06,10.15],[-.05,10.08],[-.03,10.24],[-.01,10.38],[0,10.2],[.01,10.1],[.01,10.05],[.03,10.28],[.05,10.14],[.06,10.35],[.08,10.22],[.1,10.3],[.12,10.38],[.13,10.2],[.15,10.33],[.17,10.27],[.19,10.33],[.24,10.33],[.27,10.36],[.29,10.36],[.25,10.18],[.2,10.45],[-.23,10.08],[-.2,10.14],[-.11,10.04],[-.15,9.88],[-.11,9.92],[-.08,9.93],[.03,9.9],[.04,9.7],[.07,9.74],[.12,9.8],[.12,9.76],[.13,9.67],[.16,9.94],[.19,10.03],[.2,9.87],[.23,9.82],[.24,9.85],[.26,9.87],[.28,9.95],[.28,10.02],[.27,10.07],[.25,10.18],[-.29,9.81],[-.28,9.9],[-.25,9.89],[-.2,9.77],[-.17,9.79],[-.14,9.77],[-.15,9.74],[-.23,9.65],[-.2,9.68],[-.07,9.64],[-.03,9.58],[.17,9.53],[.22,9.54],[-.14,9.38],[-.15,9.33],[-.15,9.44],[-.17,9.49],[-.22,9.43],[.28,9.43],[.25,9.41],[.18,9.39],[.17,9.25],[-.21,9.07],[0,9.08],[0,9.08],[-.1,8.93],[0,8.93],[0,8.83],[.03,8.83]];
const aktNormal=[[-.26,12.73],[0,12.73],[0,12.36],[.01,12.36],[-.1,12.24],[-.14,12.2],[-.21,12.14],[-.16,12.12],[-.16,12.11],[-.08,12.13],[-.06,12.14],[.27,12.1],[.09,12.08],[-.3,12.05],[-.07,12.03],[.01,12.04],[.04,12.03],[.2,12],[.23,12.02],[.25,12],[.27,12.02],[-.03,11.98],[.04,11.98],[-.18,11.97],[-.23,11.95],[-.27,11.95],[-.26,11.93],[-.07,11.96],[.26,11.93],[.06,11.92],[.01,11.89],[.1,11.84],[-.09,11.79],[-.07,11.81],[.12,11.77],[.23,11.8],[.29,11.72],[-.28,11.68],[0,11.68],[-.12,11.6],[0,11.6],[0,11.53],[.16,11.53]];
const aktTumor=[[.26,14.03],[0,14.03],[0,13.95],[-.22,13.95],[-.19,13.71],[0,13.71],[-.14,13.54],[-.13,13.51],[-.03,13.49],[.02,13.55],[0,13.55],[0,13.48],[0,13.39],[.3,13.45],[.11,13.4],[-.25,13.32],[0,13.32],[-.25,13.08],[-.2,13.03],[-.2,12.95],[-.09,13.03],[-.08,12.92],[0,13.13],[0,13.05],[0,13],[.04,13.09],[.1,13.12],[.11,13],[.15,13.01],[.2,13.04],[.26,13.07],[.3,12.94],[.09,12.88],[-.03,12.84],[-.22,12.85],[-.23,12.79],[-.29,12.79],[-.28,12.78],[-.13,12.76],[.14,12.76],[-.09,12.67],[-.19,12.67],[0,12.67],[.18,12.66],[-.12,12.61],[-.1,12.61],[.14,12.61],[.02,12.66],[-.29,12.61],[-.09,12.55],[.08,12.55],[-.04,12.57],[.03,12.53],[.05,12.5],[.11,12.51],[.11,12.47],[-.28,12.45],[-.28,12.47],[-.23,12.48],[-.21,12.5],[-.14,12.46],[-.07,12.45],[-.1,12.41],[.09,12.4],[.17,12.37],[.23,12.4],[.26,12.34],[.3,12.28],[.22,12.39],[.21,12.28],[.24,12.25],[.27,12.22],[.29,12.2],
[-.27,12.28],[-.26,12.25],[-.22,12.3],[-.2,12.27],[-.18,12.33],[-.16,12.3],[-.14,12.24],[-.12,12.36],[-.09,12.28],[-.07,12.23],[-.05,12.26],[.02,12.24],[.04,12.21],[.06,12.28],[.08,12.32],[.1,12.25],[.12,12.3],[.15,12.22],[.17,12.26],[.19,12.19],[-.28,12.12],[-.26,12.05],[-.24,12.13],[-.22,12],[-.2,12.07],[-.18,12.14],[-.16,11.98],[-.14,12.1],[-.12,12.03],[-.1,12.13],[-.08,11.97],[-.06,12.07],[-.04,12.01],[-.02,12.12],[0,12.05],[.02,12.1],[.04,11.98],[.06,12.08],[.08,12],[.1,12.12],[.12,12.04],[.14,11.97],[.16,12.11],[.18,12.02],[.2,12.09],[.22,11.99],[.24,12.13],[.26,12.05],[.28,12],[.3,12.11],[-.29,11.96],[-.27,11.9],[-.25,11.85],[-.23,11.93],[-.21,11.88],[-.19,11.82],[-.17,11.92],[-.15,11.86],[-.13,11.95],[-.11,11.84],[-.09,11.9],[-.07,11.83],[-.05,11.93],[-.03,11.87],[-.01,11.82],[.01,11.94],[.03,11.85],[.05,11.91],[.07,11.83],[.09,11.95],[.11,11.86],[.13,11.9],[.15,11.82],[.17,11.94],[.19,11.85],[.21,11.91],[.23,11.83],[.25,11.95],[.27,11.87],[.29,11.9],[-.3,11.78],[-.28,11.72],[-.26,11.8],[-.24,11.75],[-.22,11.68],[-.2,11.79],[-.18,11.73],[-.16,11.66],[-.14,11.77],[-.12,11.7],[-.1,11.64],[-.08,11.78],[-.06,11.71],[-.04,11.65],[-.02,11.76],[0,11.69],[.02,11.79],[.04,11.72],[.06,11.66],[.08,11.77],[.1,11.7],[.12,11.63],[.14,11.78],[.16,11.71],[.18,11.65],[.2,11.76],[.22,11.69],[.24,11.62],[.26,11.75],[.28,11.68],[.3,11.74],
[-.29,11.55],[-.27,11.48],[-.27,11.42],[-.25,11.55],[-.23,11.34],[-.21,11.52],[-.2,11.34],[-.18,11.55],[-.16,11.33],[-.14,11.46],[-.13,11.33],[-.12,11.58],[-.1,11.28],[-.08,11.41],[-.06,11.55],[-.05,11.25],[-.03,11.3],[-.01,11.35],[.01,11.32],[.02,11.18],[.06,11.2],[.09,11.4],[.1,11.22],[.12,11.18],[.14,11.5],[.15,11.27],[.17,11.47],[.19,11.37],[.2,11.23],[.23,11.5],[.24,11.42],[.26,11.36],[.27,11.53],[.28,11.12],[.29,11.22],[.3,11.37],[-.29,11.22],[-.27,11.03],[-.24,11.05],[-.22,11.13],[-.2,11.1],[-.19,11.02],[-.15,11.12],[-.13,11.04],[-.08,11.03],[.12,11.12],[.16,11.12],[.18,11],[.23,11.1],[.25,11.04],[-.24,10.85],[-.02,10.93],[0,10.93],[.01,11],[.17,10.96],[.16,11.09],[.2,10.95],
[0,10.85],[0,10.72],[0,10.67],[0,10.6],[.04,10.64],[.16,10.67],[.23,10.67],[.26,10.74],[.26,10.68],[.17,10.55],[.19,10.57],[0,10.3],[0,10.25],[.13,10.27],[.22,10.3],[0,10.17],[0,10.09],[-.09,10.18],[-.21,10.09],[0,10.02],[0,9.98],[-.21,9.98],[-.13,10.01],[-.02,9.74],[0,9.74],[0,9.56],[.13,9.56],[0,9.03],[.18,9.04],[0,8.95],[.17,8.95]];

/* ---------- Helpers ---------- */
const NS='http://www.w3.org/2000/svg';
function mk(tag,attrs,parent,txt){
  const el=document.createElementNS(NS,tag);
  for(const k in attrs){el.setAttribute(k,attrs[k]);}
  if(txt!==undefined){el.textContent=txt;}
  parent.appendChild(el);
  return el;
}
const DASHDOT='13 7 3 7';

/* ---------- Panel A: volcano ---------- */
const A=document.getElementById('panelA');
const volX=v=>641+51.5*v;
const volY=v=>872-2.717*v;
const volLeft=174,volRight=1189,volTop=47,volBottom=911;
function bandPath(xs,top,bot){
  let d='';
  xs.forEach((x,i)=>{d+=(i?'L':'M')+volX(x)+' '+volY(top[i]);});
  for(let i=xs.length-1;i>=0;i--){d+='L'+volX(xs[i])+' '+volY(bot[i]);}
  return d+'Z';
}
volXMinor.concat(volXTicks).forEach(t=>{
  const el=mk('line',{x1:volX(t),x2:volX(t),y1:volTop,y2:volBottom,stroke:'#efefef','stroke-width':2},A);
  
  
});
volYMinor.concat(volYTicks).forEach(t=>{
  const el=mk('line',{x1:volLeft,x2:volRight,y1:volY(t),y2:volY(t),stroke:'#efefef','stroke-width':2},A);
  
  
});
const noneBand=mk('path',{d:bandPath(noneBandX,noneBandTop,noneBandBottom),fill:'#bcbcbc'},A);


const downCore=mk('path',{d:bandPath(downCoreX,downCoreTop,downCoreBottom),fill:'#0000ff'},A);


const upCore=mk('path',{d:bandPath(upCoreX,upCoreTop,upCoreBottom),fill:'#ff0000'},A);


downPoints.concat(downDensePoints).forEach(p=>{
  const el=mk('ellipse',{cx:volX(p[0]),cy:volY(p[1]),rx:6.4,ry:4.7,fill:'#0000ff','fill-opacity':.45},A);
  
  
});
upPoints.concat(upDensePoints).forEach(p=>{
  const el=mk('ellipse',{cx:volX(p[0]),cy:volY(p[1]),rx:6.4,ry:4.7,fill:'#ff0000','fill-opacity':.45},A);
  
  
});
volFcCut.forEach(v=>{
  const el=mk('line',{x1:volX(v),x2:volX(v),y1:volTop,y2:volBottom,stroke:'#000','stroke-width':2.4,'stroke-dasharray':DASHDOT},A);
  
  
});
volPCut.forEach(v=>{
  const el=mk('line',{x1:volLeft,x2:volRight,y1:volY(v),y2:volY(v),stroke:'#000','stroke-width':2.4,'stroke-dasharray':DASHDOT},A);
  
  
});
const wntLink=mk('line',{x1:932,y1:436,x2:943,y2:448,stroke:'#000','stroke-width':1.5},A);


volLabels.forEach((g,i)=>{
  const b=volLabelBox[i];
  const c=volLabelDir[i]==='up'?'#e3242b':'#2a2ae0';
  const box=mk('rect',{x:b[0],y:b[1],width:b[2],height:b[3],rx:4,fill:'#fff',stroke:c,'stroke-width':1.6},A);
  
  
  const t=mk('text',{x:b[0]+b[2]/2,y:b[1]+b[3]/2+6,'font-size':17,'text-anchor':'middle',fill:c,textLength:b[2]-16,lengthAdjust:'spacingAndGlyphs'},A,g);
  
  
});
const volFrame=mk('rect',{x:volLeft,y:volTop,width:volRight-volLeft,height:volBottom-volTop,fill:'none',stroke:'#333','stroke-width':5},A);


volYTicks.forEach(t=>{
  const tk=mk('line',{x1:volLeft-6,x2:volLeft,y1:volY(t),y2:volY(t),stroke:'#444','stroke-width':2},A);
  
  
  const el=mk('text',{transform:'translate(161,'+(volY(t)+10)+') scale(1.3,1)','font-size':27,'text-anchor':'end',fill:'#4d4d4d'},A,String(t));
  
  
});
volXTicks.forEach(t=>{
  const tk=mk('line',{x1:volX(t),x2:volX(t),y1:volBottom,y2:volBottom+6,stroke:'#444','stroke-width':2},A);
  
  
  const el=mk('text',{transform:'translate('+(volX(t)-4)+',943) scale(1.2,1)','font-size':29,'text-anchor':'middle',fill:'#4d4d4d'},A,(t<0?'\u2212':'')+Math.abs(t));
  
  
});
const volTitle=mk('text',{x:710,y:34,'font-size':31,'text-anchor':'middle',textLength:334,lengthAdjust:'spacingAndGlyphs',fill:'#111'},A,'Tumor_vs_Normal');


const volXTitle=mk('text',{x:672,y:1005,'font-size':44,'font-weight':700,'text-anchor':'middle',textLength:491,lengthAdjust:'spacingAndGlyphs'},A,'Log2(Fold change)');


const volYTitle=mk('text',{transform:'translate(72,480) rotate(-90)','font-size':44,'font-weight':700,'text-anchor':'middle',textLength:318,lengthAdjust:'spacingAndGlyphs'},A,'\u2212Log10(P.adj)');


const legTitle=mk('text',{x:1217,y:439,'font-size':25,textLength:113,lengthAdjust:'spacingAndGlyphs'},A,'regulate');


const regNames=['UP','None','DOWN'];
const regColors=['#ff9a9a','#dddddd','#9c9cff'];
const regSwatchY=[463,492,522];
const regTextY=[476,504,535];
const regWidths=[43,74,99];
regNames.forEach((n,i)=>{
  const s=mk('ellipse',{cx:1252,cy:regSwatchY[i],rx:14.5,ry:10.5,fill:regColors[i]},A);
  
  
  const t=mk('text',{x:1270,y:regTextY[i],'font-size':26,textLength:regWidths[i],lengthAdjust:'spacingAndGlyphs'},A,n);
  
  
});

/* ---------- Panel C: heatmap ---------- */
const C=document.getElementById('panelC');
const heatLeft=400,heatRight=1926,heatTop=1103,heatBottom=2434;
const totalSamples=groupSizes[0]+groupSizes[1];
const heatX=s=>heatLeft+(heatRight-heatLeft)*s/totalSamples;
const rowH=(heatBottom-heatTop)/heatGenes.length;
const heatY=r=>heatTop+r*rowH;
function heatColor(v){
  const lb=[173,216,230];
  const end=v<0?[0,0,255]:[255,0,0];
  const f=Math.min(1,Math.abs(v));
  return 'rgb('+lb.map((c,i)=>Math.round(c+(end[i]-c)*f)).join(',')+')';
}
const grpN=mk('rect',{x:heatX(0),y:1076,width:heatX(groupSizes[0])-heatX(0),height:22,fill:'#00d9e0'},C);


const grpT=mk('rect',{x:heatX(groupSizes[0]),y:1076,width:heatX(totalSamples)-heatX(groupSizes[0]),height:22,fill:'#fd8d84'},C);


const grpLab=mk('text',{transform:'translate(1934,1096) scale(1.37,1)','font-size':21,fill:'#222'},C,'group');


heatRows.forEach((row,r)=>{
  const tumorCols=row.length-normalColumns;
  row.forEach((lvl,c)=>{
    const s0=c<normalColumns?c*groupSizes[0]/normalColumns:groupSizes[0]+(c-normalColumns)*groupSizes[1]/tumorCols;
    const s1=c<normalColumns?(c+1)*groupSizes[0]/normalColumns:groupSizes[0]+(c-normalColumns+1)*groupSizes[1]/tumorCols;
    const el=mk('rect',{x:heatX(s0),y:heatY(r),width:heatX(s1)-heatX(s0)+.4,height:rowH+.4,fill:heatColor((lvl-7)/10)},C);
    
    
  });
  const t=mk('text',{transform:'translate(1934,'+(heatY(r)+rowH/2+8)+') scale(1.37,1)','font-size':21,fill:'#222'},C,heatGenes[r]);
  
  
});
heatOutliers.forEach(o=>{
  const el=mk('rect',{x:heatX(o[1]),y:heatY(o[0]),width:heatX(o[1]+1)-heatX(o[1]),height:rowH,fill:heatColor(o[2])},C);
  
  
});
const nodeY={},nodeX={};
heatGenes.forEach((g,i)=>{nodeY[i]=heatY(i)+rowH/2;nodeX[i]=heatLeft;});
dendroMerges.forEach((m,k)=>{
  const id=heatGenes.length+k;
  const x=heatLeft-m[2]*10;
  const ya=nodeY[m[0]],yb=nodeY[m[1]];
  nodeX[id]=x;
  nodeY[id]=(ya+yb)/2;
  const el=mk('path',{d:'M'+nodeX[m[0]]+' '+ya+'H'+x+'V'+yb+'H'+nodeX[m[1]],fill:'none',stroke:'#444','stroke-width':2},C);
  
  
});
const cbTop=1074,cbBottom=1395;
const cbY=v=>cbTop+(1-v)*(cbBottom-cbTop)/2;
const grad=mk('linearGradient',{id:'cbGrad',x1:0,y1:0,x2:0,y2:1},C);
mk('stop',{offset:'0','stop-color':heatColor(1)},grad);
mk('stop',{offset:'0.5','stop-color':heatColor(0)},grad);
mk('stop',{offset:'1','stop-color':heatColor(-1)},grad);
const cb=mk('rect',{x:2103,y:cbTop,width:29,height:cbBottom-cbTop,fill:'url(#cbGrad)'},C);


colorbarTicks.forEach(t=>{
  const el=mk('text',{transform:'translate(2143,'+(cbY(t)+8)+') scale(1.37,1)','font-size':21,fill:'#222'},C,String(t));
  
  
});
const hgTitle=mk('text',{x:2118,y:1437,'font-size':22,'font-weight':700,textLength:81,lengthAdjust:'spacingAndGlyphs',fill:'#222'},C,'group');


const hgN=mk('rect',{x:2115,y:1445,width:48,height:34,fill:'#00d9e0'},C);


const hgT=mk('rect',{x:2115,y:1479,width:48,height:35,fill:'#fd8d84'},C);


const hgNL=mk('text',{x:2165,y:1471,'font-size':22,textLength:93,lengthAdjust:'spacingAndGlyphs',fill:'#222'},C,'Normal');


const hgTL=mk('text',{x:2165,y:1505,'font-size':22,textLength:84,lengthAdjust:'spacingAndGlyphs',fill:'#222'},C,'Tumor');



/* ---------- Panels D & E: boxplots ---------- */
const groupNames=['Normal','Tumor'];
const groupColors=['#377eb8','#e41a1c'];
const pikStats=[[10.75,11.27,11.5,11.67,11.95],[9.25,10.46,10.89,11.32,12.55]];
const aktStats=[[11.72,11.93,11.98,12.08,12.23],[10.85,11.6,11.89,12.16,12.95]];
const pikTicks=[9,10,11,12,13];
const aktTicks=[9,10,11,12,13,14];
function drawBoxPanel(cfg){
  const G=cfg.g;
  const X=(cat,j)=>cfg.x0+cfg.step*(cat+j);
  const Y=v=>cfg.y0+(cfg.vTop-v)*cfg.unit;
  cfg.stats.forEach((s,c)=>{
    const col=groupColors[c];
    const whisk=mk('line',{x1:X(c,0),x2:X(c,0),y1:Y(s[0]),y2:Y(s[4]),stroke:col,'stroke-width':3},G);
    
    
    const box=mk('rect',{x:X(c,-.375),y:Y(s[3]),width:cfg.step*.75,height:Y(s[1])-Y(s[3]),fill:col,'fill-opacity':.4,stroke:col,'stroke-width':2.6},G);
    
    
    const med=mk('line',{x1:X(c,-.375),x2:X(c,.375),y1:Y(s[2]),y2:Y(s[2]),stroke:col,'stroke-width':5},G);
    
    
    cfg.points[c].forEach(p=>{
      const el=mk('ellipse',{cx:X(c,p[0]),cy:Y(p[1]),rx:6,ry:4.9,fill:col,'fill-opacity':p[0]===0?.38:.6},G);
      
      
    });
  });
  const axL=mk('line',{x1:cfg.left,x2:cfg.left,y1:cfg.top,y2:cfg.bottom+3,stroke:'#000','stroke-width':cfg.axisW},G);
  
  
  const axB=mk('line',{x1:cfg.left-3,x2:cfg.right,y1:cfg.bottom,y2:cfg.bottom,stroke:'#000','stroke-width':cfg.axisW},G);
  
  
  cfg.ticks.forEach(t=>{
    const tk=mk('line',{x1:cfg.left-7,x2:cfg.left,y1:Y(t),y2:Y(t),stroke:'#444','stroke-width':2},G);
    
    
    const el=mk('text',{x:cfg.left-13,y:Y(t)+7,'font-size':20,'text-anchor':'end',fill:'#4d4d4d'},G,String(t));
    
    
  });
  groupNames.forEach((n,c)=>{
    const tk=mk('line',{x1:X(c,0),x2:X(c,0),y1:cfg.bottom,y2:cfg.bottom+6,stroke:'#444','stroke-width':2},G);
    
    
    const el=mk('text',{x:X(c,0),y:cfg.xLabelY,'font-size':21,'text-anchor':'middle',fill:'#4d4d4d'},G,n);
    
    
  });
  const xt=mk('text',{x:cfg.xTitleX,y:cfg.xTitleY,'font-size':26,'text-anchor':'middle',textLength:168,lengthAdjust:'spacingAndGlyphs',fill:'#111'},G,'TCGA Groups');
  
  
  const yt=mk('text',{transform:'translate('+cfg.yTitleX+','+cfg.yTitleY+') rotate(-90)','font-size':24,'text-anchor':'middle',textLength:cfg.yTitleLen,lengthAdjust:'spacingAndGlyphs',fill:'#111'},G,'Log (TPM + 1)');
  
  
  const tt=mk('text',{x:cfg.titleX,y:cfg.titleY,'font-size':28,textLength:cfg.titleLen,lengthAdjust:'spacingAndGlyphs',fill:'#111'},G,cfg.title);
  
  
  const st=mk('text',{x:cfg.titleX,y:cfg.subY,'font-size':24,textLength:cfg.subLen,lengthAdjust:'spacingAndGlyphs',fill:'#111'},G,'normal(n = 41), tumor(n = 483)');
  
  
  groupNames.forEach((n,c)=>{
    const k=cfg.legend;
    const col=groupColors[c];
    const y=k.keyY[c];
    const cx=k.x+k.w/2;
    const ln=mk('line',{x1:cx,x2:cx,y1:y-5,y2:y+k.h+5,stroke:col,'stroke-width':2},G);
    
    
    const bx=mk('rect',{x:k.x,y:y,width:k.w,height:k.h,fill:col,'fill-opacity':.4,stroke:col,'stroke-width':2.5},G);
    
    
    const md=mk('line',{x1:k.x,x2:k.x+k.w,y1:y+k.h/2,y2:y+k.h/2,stroke:col,'stroke-width':2.5},G);
    
    
    const dt=mk('ellipse',{cx:cx,cy:y+k.h/2,rx:5.6,ry:4.5,fill:col,'fill-opacity':.7},G);
    
    
    const lb=mk('text',{x:k.tx,y:k.tY[c],'font-size':k.fs,textLength:k.len[c],lengthAdjust:'spacingAndGlyphs',fill:'#111'},G,n);
    
    
  });
}
drawBoxPanel({g:document.getElementById('panelD'),x0:424,step:431,y0:2553.5,vTop:13,unit:160.6,left:166,right:1111,top:2507,bottom:3258,axisW:6,stats:pikStats,points:[pikNormal,pikTumor],ticks:pikTicks,xLabelY:3283,xTitleX:638,xTitleY:3308,yTitleX:118,yTitleY:2881,yTitleLen:146,titleX:180,titleY:2529,titleLen:859,title:'Expression of PIK3R1 in TCGA\u2212KIRC based onSample types',subY:2562,subLen:364,legend:{x:1089,w:33,h:20,keyY:[2854,2889],tx:1140,tY:[2866,2914],fs:27,len:[93,83]}});
drawBoxPanel({g:document.getElementById('panelE'),x0:1625,step:417,y0:2551,vTop:14,unit:131,left:1375,right:2291,top:2513,bottom:3246,axisW:5,stats:aktStats,points:[aktNormal,aktTumor],ticks:aktTicks,xLabelY:3272,xTitleX:1834,xTitleY:3296,yTitleX:1328,yTitleY:2879,yTitleLen:142,titleX:1387,titleY:2525,titleLen:803,title:'Expression of AKT1 in TCGA\u2212KIRC based onSample types',subY:2559,subLen:352,legend:{x:2256,w:31,h:19,keyY:[2852,2888],tx:2305,tY:[2870,2905],fs:21,len:[67,60]}});
const D=document.getElementById('panelD');
const sigBar=mk('line',{x1:441,x2:859,y1:2575,y2:2575,stroke:'#1a2233','stroke-width':4.5},D);


const sigStar=mk('text',{x:606,y:2584,'font-size':52,'font-weight':700,'text-anchor':'middle',fill:'#000'},D,'*');


</script>
</body>
</html>
